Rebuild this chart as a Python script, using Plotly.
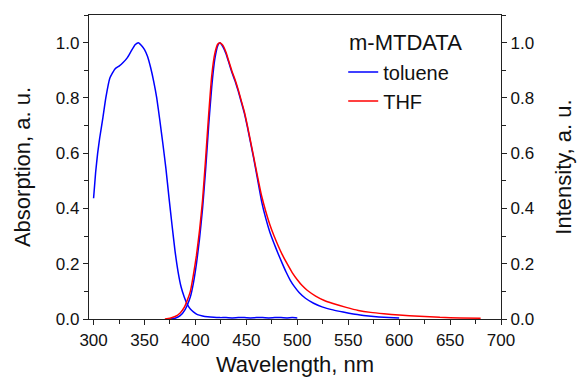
import plotly.graph_objects as go

# Absorption, toluene (left axis)
abs_wl = [300, 302, 304, 306, 309, 312, 316, 321, 325, 329, 333, 337, 341, 344, 347, 350,
          353, 356, 359, 362, 365, 368, 371, 374, 377, 380, 383, 386, 389, 392, 395,
          398, 402, 407, 412, 418, 424, 430, 436, 442, 448, 454, 460, 466, 472, 478,
          484, 490, 495, 500]
abs_tol = [0.437, 0.53, 0.6, 0.655, 0.725, 0.80, 0.872, 0.905, 0.915, 0.928, 0.945, 0.97, 0.993, 1.0, 0.99, 0.975,
           0.95, 0.91, 0.86, 0.80, 0.72, 0.635, 0.545, 0.44, 0.34, 0.245, 0.17, 0.115, 0.08, 0.053, 0.036,
           0.026, 0.016, 0.011, 0.008, 0.006, 0.005, 0.005, 0.004, 0.005, 0.005, 0.004, 0.005, 0.005, 0.004, 0.005,
           0.005, 0.004, 0.005, 0.004]

# Emission, toluene (right axis)
em_tol_wl = [375, 380, 385, 390, 395, 398, 401, 404, 407, 410, 413, 416, 419, 422, 424,
             427, 430, 433, 436, 439, 442, 445, 448, 451, 454, 457, 461, 465, 469, 473,
             477, 481, 485, 489, 493, 497, 502, 508, 516, 525, 535, 545, 555, 565, 575,
             585, 600]
em_tol = [0.0, 0.003, 0.012, 0.035, 0.08, 0.13, 0.2, 0.29, 0.4, 0.54, 0.7, 0.84, 0.94, 0.99, 1.0,
          0.985, 0.96, 0.925, 0.89, 0.86, 0.825, 0.785, 0.745, 0.695, 0.64, 0.585, 0.505, 0.425, 0.365, 0.315,
          0.275, 0.238, 0.203, 0.17, 0.141, 0.118, 0.095, 0.075, 0.057, 0.043, 0.033, 0.025, 0.018, 0.013, 0.009,
          0.006, 0.004]

# Emission, THF (right axis)
em_thf_wl = [370, 375, 380, 385, 389, 392, 395, 398, 401, 404, 407, 410, 413, 416, 419,
             422, 424, 427, 430, 433, 436, 439, 442, 445, 448, 451, 454, 457, 461, 465,
             469, 473, 477, 481, 485, 490, 495, 500, 505, 510, 518, 526, 535, 548, 560,
             572, 585, 600, 620, 640, 660, 680]
em_thf = [0.0, 0.003, 0.009, 0.022, 0.042, 0.068, 0.1, 0.16, 0.23, 0.32, 0.43, 0.58, 0.74, 0.88, 0.96,
          0.995, 1.0, 0.99, 0.965, 0.93, 0.895, 0.865, 0.83, 0.79, 0.75, 0.70, 0.645, 0.59, 0.515, 0.445,
          0.39, 0.342, 0.302, 0.267, 0.235, 0.20, 0.168, 0.142, 0.12, 0.103, 0.083, 0.068, 0.056, 0.042, 0.031,
          0.024, 0.019, 0.0145, 0.01, 0.006, 0.004, 0.003]

x_ticks = [300, 350, 400, 450, 500, 550, 600, 650, 700]
y_ticks = [0.0, 0.2, 0.4, 0.6, 0.8, 1.0]

FONT = "Liberation Sans, Arial, sans-serif"
AX = "#222222"

fig = go.Figure()
fig.add_trace(go.Scatter(x=abs_wl, y=abs_tol, mode="lines", yaxis="y", showlegend=False,
                         line=dict(color="#0000FF", width=1.5, shape="spline", smoothing=0.4)))
fig.add_trace(go.Scatter(x=em_tol_wl, y=em_tol, mode="lines", yaxis="y2", name="toluene",
                         line=dict(color="#0000FF", width=1.5, shape="spline", smoothing=0.4)))
fig.add_trace(go.Scatter(x=em_thf_wl, y=em_thf, mode="lines", yaxis="y2", name="THF",
                         line=dict(color="#FF0000", width=1.5, shape="spline", smoothing=0.4)))

axis_common = dict(showgrid=False, zeroline=False, showline=True, linecolor=AX, linewidth=1.3,
                   ticks="outside", ticklen=5, tickwidth=1.2, tickcolor=AX, automargin=False,
                   tickfont=dict(family=FONT, size=17, color="#111"))

fig.update_layout(
    width=578, height=382,
    margin=dict(l=89, r=77, t=15, b=63),
    paper_bgcolor="white", plot_bgcolor="white",
    font=dict(family=FONT, color="#111"),
    xaxis=dict(range=[295.5, 700], tickvals=x_ticks, mirror=True,
               minor=dict(dtick=25, tick0=300, ticks="outside", ticklen=3.5, tickcolor=AX, tickwidth=1.2),
               title=dict(text="Wavelength, nm", font=dict(family=FONT, size=22), standoff=8),
               **axis_common),
    yaxis=dict(range=[0, 1.1], tickvals=y_ticks, tickformat=".1f",
               minor=dict(dtick=0.1, tick0=0, ticks="outside", ticklen=3.5, tickcolor=AX, tickwidth=1.2),
               title=dict(text="Absorption, a. u.", font=dict(family=FONT, size=22), standoff=19),
               **axis_common),
    yaxis2=dict(range=[0, 1.1], tickvals=y_ticks, tickformat=".1f", overlaying="y", side="right",
                minor=dict(dtick=0.1, tick0=0, ticks="outside", ticklen=3.5, tickcolor=AX, tickwidth=1.2),
                title=dict(text="Intensity, a. u.", font=dict(family=FONT, size=22), standoff=22),
                **axis_common),
    legend=dict(x=0.617, y=0.877, xanchor="left", yanchor="top", bgcolor="rgba(0,0,0,0)",
                font=dict(family=FONT, size=20), tracegroupgap=0, itemwidth=30),
    annotations=[dict(text="m-MTDATA", xref="paper", yref="paper", x=0.626, y=0.908,
                      xanchor="left", yanchor="middle", showarrow=False,
                      font=dict(family=FONT, size=22, color="#111"))],
)

fig.write_html("out.html", config={"displayModeBar": False},
               post_script="document.body.style.margin='0px';")
